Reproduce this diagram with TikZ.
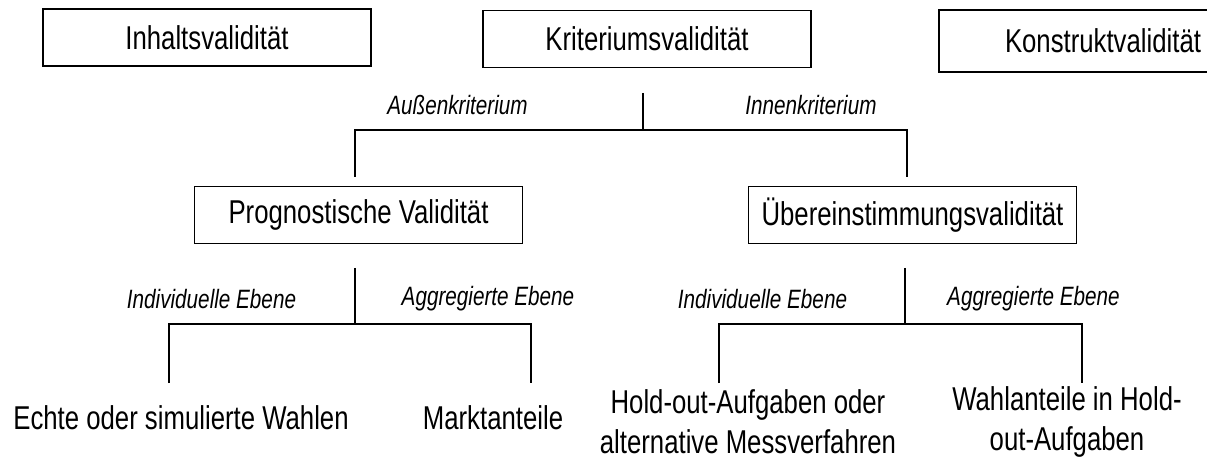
\documentclass[tikz,border=0pt]{standalone}
\usepackage{fontspec}
\setmainfont[FakeStretch=0.78]{Liberation Sans}

\tikzset{
  kasten/.style={draw, line width=1.4pt, minimum width=246pt, minimum height=42.75pt,
    inner sep=0pt, font=\fontsize{24.75}{28}\selectfont},
  ebene/.style={font=\fontsize{19.9}{22}\selectfont\itshape},
  blatt/.style={align=center, font=\fontsize{24.75}{30}\selectfont},
  ast/.style={line width=1.2pt}
}

\begin{document}
\begin{tikzpicture}[x=0.75pt, y=-0.75pt]
    \useasboundingbox (0,0) rectangle (1207,463);
    % obere Reihe
    \node[kasten] (inhalt) at (207,37.5) {Inhaltsvalidität};
    \node[kasten] (krit) at (647,39) {Kriteriumsvalidität};
    \node[kasten, minimum height=46.5pt] (konstrukt) at (1103,41) {Konstruktvalidität};
    % zweite Reihe
    \node[kasten] (prog) at (358.5,215) {Prognostische Validität};
    \node[kasten] (ueber) at (912.5,215) {Übereinstimmungsvalidität};
    % Verzweigung unter Kriteriumsvalidität
    \coordinate (k0) at (643,93);
    \coordinate (k1) at (643,130);
    \coordinate (pa) at (355,177);
    \coordinate (ua) at (907,177);
    \draw[ast] (k0) -- (k1);
    \draw[ast] (pa) -- (pa |- k1) -- (ua |- k1) -- (ua);
    \node[ebene] (aussen) at (457.5,105) {Außenkriterium};
    \node[ebene] (innen) at (811,105) {Innenkriterium};
    % Verzweigung unter Prognostische Validität
    \coordinate (p0) at (355,268);
    \coordinate (p1) at (355,324);
    \coordinate (ea) at (169,383);
    \coordinate (ma) at (531,383);
    \draw[ast] (p0) -- (p1);
    \draw[ast] (ea) -- (ea |- p1) -- (ma |- p1) -- (ma);
    \node[ebene] (ind1) at (211.5,299) {Individuelle Ebene};
    \node[ebene] (agg1) at (488,299) {Aggregierte Ebene};
    % Verzweigung unter Übereinstimmungsvalidität
    \coordinate (u0) at (905,268);
    \coordinate (u1) at (905,324);
    \coordinate (ha) at (719,383);
    \coordinate (wa) at (1082,383);
    \draw[ast] (u0) -- (u1);
    \draw[ast] (ha) -- (ha |- u1) -- (wa |- u1) -- (wa);
    \node[ebene] (ind2) at (762.5,299) {Individuelle Ebene};
    \node[ebene] (agg2) at (1033.5,299) {Aggregierte Ebene};
    % Blätter
    \node[blatt] (echte) at (181,418) {Echte oder simulierte Wahlen};
    \node[blatt] (markt) at (493,418) {Marktanteile};
    \node[blatt] (hold) at (748,422) {Hold-out-Aufgaben oder\\alternative Messverfahren};
    \node[blatt] (wahl) at (1067,422) {Wahlanteile in Hold-\\out-Aufgaben};
\end{tikzpicture}
\end{document}
